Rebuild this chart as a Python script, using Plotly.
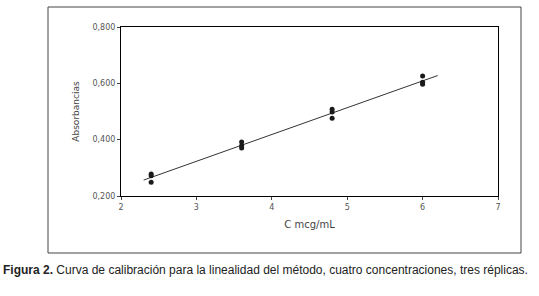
import numpy as np
import plotly.graph_objects as go

# Data
conc = [2.4, 2.4, 2.4, 3.6, 3.6, 3.6, 4.8, 4.8, 4.8, 6.0, 6.0, 6.0]
absorb = [0.278, 0.272, 0.249, 0.392, 0.378, 0.370, 0.508, 0.498, 0.476, 0.626, 0.604, 0.597]
fit_x = [2.3, 6.2]
x_ticks = [2, 3, 4, 5, 6, 7]
y_ticks = [0.2, 0.4, 0.6, 0.8]

slope, intercept = np.polyfit(conc, absorb, 1)
fit_y = [slope * v + intercept for v in fit_x]

fig = go.Figure()
fig.add_trace(go.Scatter(x=fit_x, y=fit_y, mode="lines",
                         line=dict(color="#333333", width=1), showlegend=False))
fig.add_trace(go.Scatter(x=conc, y=absorb, mode="markers",
                         marker=dict(symbol="circle", size=5, color="#1a1a1a"),
                         showlegend=False))

L, R, T, B = 121, 41, 27, 100
W, H = 539, 296
pw = W - L - R
ph = H - T - B

def px(xp):
    return (xp - L) / pw

def py(yp):
    return (H - B - yp) / ph

fig.update_layout(
    width=W, height=H,
    margin=dict(l=L, r=R, t=T, b=B, autoexpand=False),
    paper_bgcolor="white", plot_bgcolor="white",
    separators=",.",
    font=dict(family="DejaVu Sans", color="#444444"),
    xaxis=dict(range=[2, 7], tickvals=x_ticks, ticks="outside", ticklen=3,
               showline=True, linecolor="black", linewidth=1, mirror=True,
               showgrid=False, zeroline=False, automargin=False,
               tickfont=dict(size=8, color="#555555"),
               title=dict(text="C mcg/mL", font=dict(size=10, color="#444444"), standoff=10)),
    yaxis=dict(range=[0.2, 0.8], tickvals=y_ticks, tickformat=".3f", ticks="outside", ticklen=3,
               showline=True, linecolor="black", linewidth=1, mirror=True,
               showgrid=False, zeroline=False, automargin=False,
               tickfont=dict(size=8, color="#555555"),
               title=dict(text="Absorbancias", font=dict(size=9, color="#444444"), standoff=11)),
    shapes=[dict(type="rect", xref="paper", yref="paper",
                 x0=px(48), x1=px(521), y0=py(253), y1=py(7),
                 line=dict(color="#444444", width=1))],
    annotations=[dict(xref="paper", yref="paper", x=px(265), y=py(270),
                      xanchor="center", yanchor="middle", showarrow=False,
                      text="<b>Figura 2.</b> Curva de calibración para la linealidad del método, cuatro concentraciones, tres réplicas.",
                      font=dict(family="Liberation Sans", size=12, color="#222222"))],
)

fig.write_html("out.html", config={"displayModeBar": False},
               post_script="document.body.style.margin='0';document.body.style.overflow='hidden';")
